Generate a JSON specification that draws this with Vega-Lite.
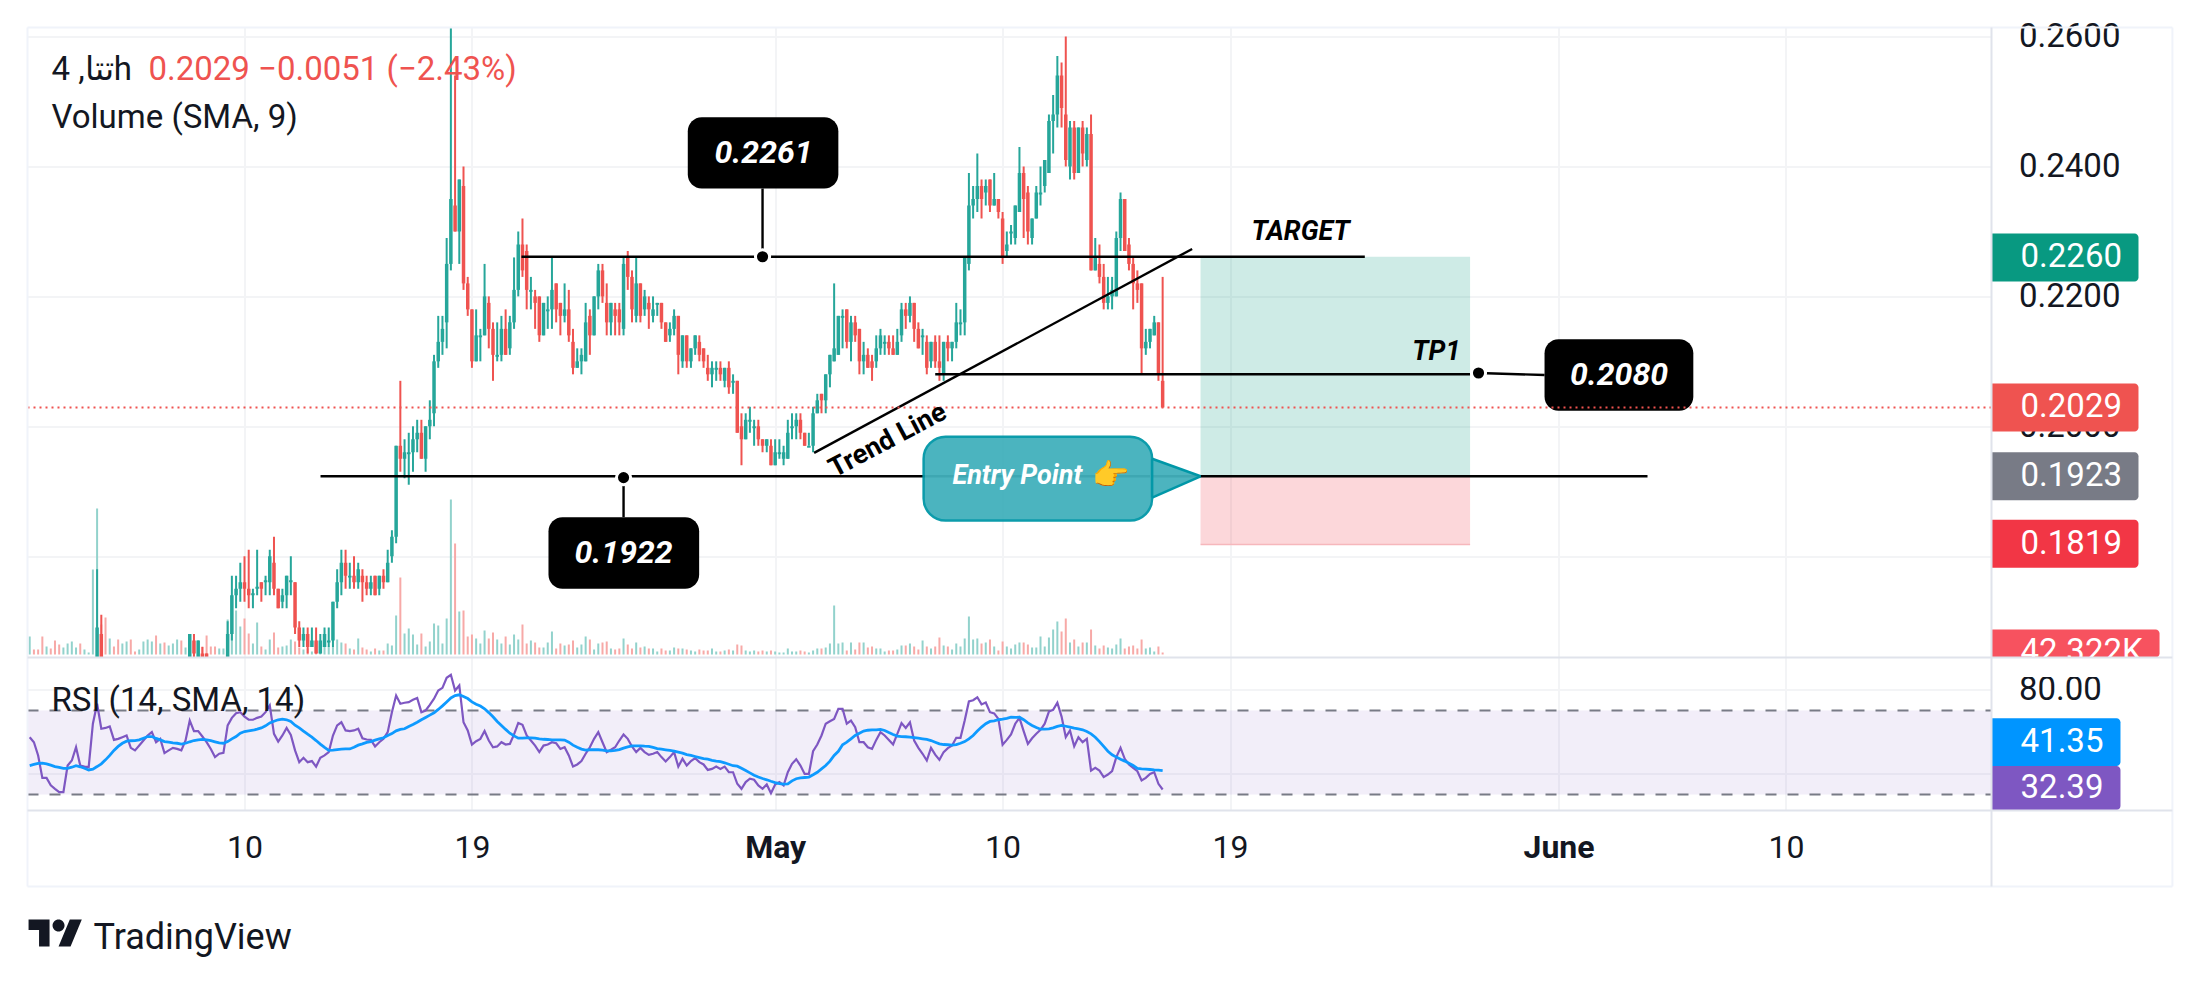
{
"$schema":"https://vega.github.io/schema/vega-lite/v6.json",
"background":"white",
"padding":{"left":23.5,"top":20.5,"right":28,"bottom":0},
"bounds":"flush",
"spacing":0,
"resolve":{"scale":{"color":"independent"}},
"config":{"font":"Roboto","view":{"stroke":null},"axis":{"gridColor":"#f3f4f6","gridWidth":2}},
"datasets":{"bars":[
{"t":"2025-04-01T12:00Z","u":1,"v":360,"r":57.3,"s":43.8},
{"t":"2025-04-01T16:00Z","u":0,"v":100,"r":54.9,"s":44.3},
{"t":"2025-04-01T20:00Z","u":0,"v":100,"r":48.6,"s":44.8},
{"t":"2025-04-02T00:00Z","u":0,"v":360,"r":37.9,"s":44.9},
{"t":"2025-04-02T04:00Z","u":1,"v":160,"r":37.9,"s":44.6},
{"t":"2025-04-02T08:00Z","u":0,"v":120,"r":34.4,"s":44.0},
{"t":"2025-04-02T12:00Z","u":0,"v":280,"r":32.7,"s":43.3},
{"t":"2025-04-02T16:00Z","u":0,"v":200,"r":31.1,"s":42.9},
{"t":"2025-04-02T20:00Z","u":1,"v":140,"r":31.1,"s":42.4},
{"t":"2025-04-03T00:00Z","u":1,"v":220,"r":43.8,"s":42.4},
{"t":"2025-04-03T04:00Z","u":1,"v":260,"r":46.2,"s":43.0},
{"t":"2025-04-03T08:00Z","u":1,"v":140,"r":52.5,"s":43.7},
{"t":"2025-04-03T12:00Z","u":0,"v":220,"r":43.8,"s":43.2},
{"t":"2025-04-03T16:00Z","u":1,"v":100,"r":43.3,"s":42.5},
{"t":"2025-04-03T20:00Z","u":1,"v":40,"r":43.0,"s":41.7},
{"t":"2025-04-04T00:00Z","u":1,"v":1700,"r":63.7,"s":42.1},
{"t":"2025-04-04T04:00Z","u":1,"v":2920,"r":73.2,"s":43.3,"o":0.16,"h":0.178,"l":0.16,"c":0.169},
{"t":"2025-04-04T08:00Z","u":0,"v":600,"r":61.3,"s":44.6,"o":0.168,"h":0.171,"l":0.16,"c":0.16},
{"t":"2025-04-04T12:00Z","u":0,"v":740,"r":61.7,"s":46.5},
{"t":"2025-04-04T16:00Z","u":1,"v":320,"r":62.4,"s":48.6},
{"t":"2025-04-04T20:00Z","u":0,"v":160,"r":56.0,"s":51.0},
{"t":"2025-04-05T00:00Z","u":0,"v":300,"r":56.5,"s":52.9},
{"t":"2025-04-05T04:00Z","u":1,"v":220,"r":57.3,"s":54.4},
{"t":"2025-04-05T08:00Z","u":1,"v":260,"r":58.1,"s":55.4},
{"t":"2025-04-05T12:00Z","u":0,"v":300,"r":52.2,"s":55.6},
{"t":"2025-04-05T16:00Z","u":0,"v":60,"r":51.0,"s":55.7},
{"t":"2025-04-05T20:00Z","u":1,"v":100,"r":53.3,"s":56.0},
{"t":"2025-04-06T00:00Z","u":1,"v":260,"r":55.7,"s":56.8},
{"t":"2025-04-06T04:00Z","u":1,"v":300,"r":58.1,"s":57.6},
{"t":"2025-04-06T08:00Z","u":1,"v":260,"r":59.7,"s":57.6},
{"t":"2025-04-06T12:00Z","u":0,"v":380,"r":54.9,"s":56.7},
{"t":"2025-04-06T16:00Z","u":1,"v":220,"r":56.5,"s":56.0},
{"t":"2025-04-06T20:00Z","u":0,"v":240,"r":49.7,"s":55.2},
{"t":"2025-04-07T00:00Z","u":1,"v":180,"r":51.0,"s":54.9},
{"t":"2025-04-07T04:00Z","u":1,"v":220,"r":52.2,"s":54.6},
{"t":"2025-04-07T08:00Z","u":1,"v":300,"r":51.7,"s":54.4},
{"t":"2025-04-07T12:00Z","u":0,"v":280,"r":51.0,"s":54.0},
{"t":"2025-04-07T16:00Z","u":1,"v":140,"r":55.7,"s":54.4},
{"t":"2025-04-07T20:00Z","u":1,"v":280,"r":65.2,"s":55.1,"o":0.16,"h":0.168,"l":0.16,"c":0.168},
{"t":"2025-04-08T00:00Z","u":0,"v":280,"r":60.2,"s":55.7,"o":0.167,"h":0.168,"l":0.164,"c":0.165},
{"t":"2025-04-08T04:00Z","u":1,"v":240,"r":60.2,"s":56.0,"o":0.164,"h":0.167,"l":0.164,"c":0.167},
{"t":"2025-04-08T08:00Z","u":0,"v":160,"r":57.6,"s":56.2,"o":0.165,"h":0.166,"l":0.164,"c":0.164},
{"t":"2025-04-08T12:00Z","u":0,"v":380,"r":54.9,"s":56.0,"o":0.165,"h":0.165,"l":0.164,"c":0.164},
{"t":"2025-04-08T16:00Z","u":0,"v":160,"r":51.7,"s":55.6},
{"t":"2025-04-08T20:00Z","u":0,"v":160,"r":47.8,"s":55.1},
{"t":"2025-04-09T00:00Z","u":1,"v":120,"r":49.4,"s":54.6},
{"t":"2025-04-09T04:00Z","u":1,"v":120,"r":49.8,"s":54.4},
{"t":"2025-04-09T08:00Z","u":1,"v":700,"r":62.9,"s":55.2,"o":0.164,"h":0.17,"l":0.164,"c":0.168},
{"t":"2025-04-09T12:00Z","u":1,"v":900,"r":66.5,"s":56.5,"o":0.168,"h":0.177,"l":0.167,"c":0.174},
{"t":"2025-04-09T16:00Z","u":1,"v":880,"r":68.7,"s":57.6,"o":0.174,"h":0.177,"l":0.172,"c":0.175},
{"t":"2025-04-09T20:00Z","u":1,"v":560,"r":69.2,"s":59.2,"o":0.175,"h":0.179,"l":0.173,"c":0.176},
{"t":"2025-04-10T00:00Z","u":0,"v":720,"r":67.1,"s":60.0,"o":0.176,"h":0.18,"l":0.173,"c":0.175},
{"t":"2025-04-10T04:00Z","u":0,"v":420,"r":65.6,"s":60.3,"o":0.175,"h":0.181,"l":0.172,"c":0.174},
{"t":"2025-04-10T08:00Z","u":1,"v":220,"r":65.6,"s":60.6,"o":0.174,"h":0.175,"l":0.172,"c":0.1743},
{"t":"2025-04-10T12:00Z","u":1,"v":640,"r":66.5,"s":61.1,"o":0.175,"h":0.181,"l":0.174,"c":0.1753},
{"t":"2025-04-10T16:00Z","u":0,"v":160,"r":67.1,"s":61.7,"o":0.176,"h":0.176,"l":0.173,"c":0.175},
{"t":"2025-04-10T20:00Z","u":1,"v":100,"r":69.2,"s":62.7,"o":0.176,"h":0.177,"l":0.174,"c":0.1763},
{"t":"2025-04-11T00:00Z","u":1,"v":300,"r":72.4,"s":64.1,"o":0.176,"h":0.181,"l":0.174,"c":0.18},
{"t":"2025-04-11T04:00Z","u":0,"v":440,"r":58.9,"s":64.9,"o":0.179,"h":0.183,"l":0.174,"c":0.175},
{"t":"2025-04-11T08:00Z","u":0,"v":140,"r":55.2,"s":65.6,"o":0.175,"h":0.175,"l":0.172,"c":0.172},
{"t":"2025-04-11T12:00Z","u":1,"v":160,"r":58.1,"s":65.9,"o":0.173,"h":0.175,"l":0.172,"c":0.174},
{"t":"2025-04-11T16:00Z","u":1,"v":180,"r":61.7,"s":65.6,"o":0.174,"h":0.177,"l":0.172,"c":0.177},
{"t":"2025-04-11T20:00Z","u":1,"v":300,"r":58.4,"s":64.8,"o":0.176,"h":0.18,"l":0.174,"c":0.1763},
{"t":"2025-04-12T00:00Z","u":0,"v":260,"r":51.0,"s":63.0,"o":0.176,"h":0.176,"l":0.168,"c":0.169},
{"t":"2025-04-12T04:00Z","u":0,"v":140,"r":45.4,"s":61.7,"o":0.169,"h":0.17,"l":0.166,"c":0.167},
{"t":"2025-04-12T08:00Z","u":1,"v":100,"r":47.5,"s":60.2,"o":0.167,"h":0.169,"l":0.166,"c":0.168},
{"t":"2025-04-12T12:00Z","u":0,"v":120,"r":45.4,"s":58.7,"o":0.168,"h":0.169,"l":0.165,"c":0.166},
{"t":"2025-04-12T16:00Z","u":1,"v":60,"r":45.9,"s":57.3,"o":0.166,"h":0.169,"l":0.166,"c":0.167},
{"t":"2025-04-12T20:00Z","u":0,"v":60,"r":43.3,"s":55.7,"o":0.167,"h":0.169,"l":0.165,"c":0.165},
{"t":"2025-04-13T00:00Z","u":1,"v":80,"r":47.5,"s":54.0,"o":0.165,"h":0.168,"l":0.165,"c":0.167},
{"t":"2025-04-13T04:00Z","u":1,"v":240,"r":48.6,"s":52.4,"o":0.166,"h":0.169,"l":0.166,"c":0.168},
{"t":"2025-04-13T08:00Z","u":1,"v":160,"r":50.2,"s":51.0,"o":0.1667,"h":0.169,"l":0.166,"c":0.167},
{"t":"2025-04-13T12:00Z","u":1,"v":160,"r":58.1,"s":51.1,"o":0.167,"h":0.173,"l":0.166,"c":0.173},
{"t":"2025-04-13T16:00Z","u":1,"v":300,"r":62.9,"s":51.4,"o":0.173,"h":0.178,"l":0.172,"c":0.176},
{"t":"2025-04-13T20:00Z","u":1,"v":240,"r":64.4,"s":51.6,"o":0.176,"h":0.181,"l":0.174,"c":0.179},
{"t":"2025-04-14T00:00Z","u":0,"v":220,"r":60.5,"s":51.7,"o":0.179,"h":0.181,"l":0.175,"c":0.177},
{"t":"2025-04-14T04:00Z","u":1,"v":120,"r":60.2,"s":51.7,"o":0.1767,"h":0.179,"l":0.175,"c":0.177},
{"t":"2025-04-14T08:00Z","u":0,"v":100,"r":60.5,"s":52.5,"o":0.177,"h":0.18,"l":0.175,"c":0.176},
{"t":"2025-04-14T12:00Z","u":1,"v":320,"r":61.3,"s":53.5,"o":0.176,"h":0.179,"l":0.175,"c":0.178},
{"t":"2025-04-14T16:00Z","u":0,"v":140,"r":56.8,"s":54.1,"o":0.177,"h":0.178,"l":0.173,"c":0.176},
{"t":"2025-04-14T20:00Z","u":0,"v":100,"r":56.2,"s":54.8,"o":0.176,"h":0.177,"l":0.174,"c":0.175},
{"t":"2025-04-15T00:00Z","u":1,"v":60,"r":56.0,"s":55.2,"o":0.175,"h":0.177,"l":0.174,"c":0.176},
{"t":"2025-04-15T04:00Z","u":0,"v":120,"r":52.9,"s":55.9,"o":0.177,"h":0.177,"l":0.174,"c":0.174},
{"t":"2025-04-15T08:00Z","u":1,"v":80,"r":54.9,"s":56.5,"o":0.175,"h":0.177,"l":0.174,"c":0.177},
{"t":"2025-04-15T12:00Z","u":0,"v":80,"r":56.5,"s":57.0,"o":0.177,"h":0.178,"l":0.175,"c":0.176},
{"t":"2025-04-15T16:00Z","u":1,"v":220,"r":59.7,"s":58.1,"o":0.176,"h":0.181,"l":0.176,"c":0.179},
{"t":"2025-04-15T20:00Z","u":1,"v":180,"r":69.2,"s":59.0,"o":0.18,"h":0.184,"l":0.179,"c":0.183},
{"t":"2025-04-16T00:00Z","u":1,"v":780,"r":77.1,"s":60.3,"o":0.183,"h":0.197,"l":0.182,"c":0.197},
{"t":"2025-04-16T04:00Z","u":0,"v":1540,"r":73.2,"s":61.0,"o":0.197,"h":0.207,"l":0.193,"c":0.195},
{"t":"2025-04-16T08:00Z","u":1,"v":420,"r":73.7,"s":61.3,"o":0.195,"h":0.198,"l":0.192,"c":0.196},
{"t":"2025-04-16T12:00Z","u":1,"v":520,"r":74.0,"s":62.4,"o":0.1957,"h":0.199,"l":0.191,"c":0.196},
{"t":"2025-04-16T16:00Z","u":1,"v":400,"r":75.1,"s":63.3,"o":0.196,"h":0.2,"l":0.193,"c":0.198},
{"t":"2025-04-16T20:00Z","u":1,"v":200,"r":76.0,"s":64.4,"o":0.198,"h":0.201,"l":0.196,"c":0.199},
{"t":"2025-04-17T00:00Z","u":0,"v":420,"r":69.2,"s":65.6,"o":0.199,"h":0.201,"l":0.195,"c":0.195},
{"t":"2025-04-17T04:00Z","u":1,"v":160,"r":70.0,"s":66.7,"o":0.195,"h":0.2,"l":0.193,"c":0.2},
{"t":"2025-04-17T08:00Z","u":1,"v":260,"r":72.7,"s":67.8,"o":0.2,"h":0.204,"l":0.198,"c":0.201},
{"t":"2025-04-17T12:00Z","u":1,"v":620,"r":75.6,"s":68.9,"o":0.202,"h":0.211,"l":0.2,"c":0.21},
{"t":"2025-04-17T16:00Z","u":1,"v":580,"r":79.5,"s":70.5,"o":0.21,"h":0.217,"l":0.209,"c":0.213},
{"t":"2025-04-17T20:00Z","u":1,"v":220,"r":80.8,"s":72.2,"o":0.213,"h":0.217,"l":0.211,"c":0.215},
{"t":"2025-04-18T00:00Z","u":1,"v":720,"r":85.6,"s":74.1,"o":0.216,"h":0.229,"l":0.212,"c":0.225},
{"t":"2025-04-18T04:00Z","u":1,"v":3100,"r":87.0,"s":76.0,"o":0.225,"h":0.2614,"l":0.224,"c":0.235},
{"t":"2025-04-18T08:00Z","u":0,"v":2220,"r":79.5,"s":77.1,"o":0.234,"h":0.254,"l":0.23,"c":0.23},
{"t":"2025-04-18T12:00Z","u":1,"v":860,"r":81.9,"s":77.5,"o":0.23,"h":0.238,"l":0.225,"c":0.238},
{"t":"2025-04-18T16:00Z","u":0,"v":880,"r":64.4,"s":76.7,"o":0.237,"h":0.24,"l":0.221,"c":0.222},
{"t":"2025-04-18T20:00Z","u":0,"v":360,"r":60.5,"s":75.7,"o":0.222,"h":0.223,"l":0.217,"c":0.218},
{"t":"2025-04-19T00:00Z","u":0,"v":400,"r":53.8,"s":74.1,"o":0.218,"h":0.218,"l":0.209,"c":0.21},
{"t":"2025-04-19T04:00Z","u":1,"v":320,"r":55.4,"s":73.0,"o":0.21,"h":0.218,"l":0.21,"c":0.214},
{"t":"2025-04-19T08:00Z","u":1,"v":220,"r":56.5,"s":72.1,"o":0.2137,"h":0.215,"l":0.21,"c":0.214},
{"t":"2025-04-19T12:00Z","u":1,"v":480,"r":60.2,"s":70.8,"o":0.214,"h":0.225,"l":0.214,"c":0.22},
{"t":"2025-04-19T16:00Z","u":0,"v":320,"r":55.7,"s":69.0,"o":0.219,"h":0.22,"l":0.212,"c":0.215},
{"t":"2025-04-19T20:00Z","u":0,"v":440,"r":52.5,"s":67.0,"o":0.215,"h":0.216,"l":0.207,"c":0.211},
{"t":"2025-04-20T00:00Z","u":1,"v":300,"r":52.9,"s":64.8,"o":0.2107,"h":0.216,"l":0.21,"c":0.211},
{"t":"2025-04-20T04:00Z","u":1,"v":220,"r":54.9,"s":62.9,"o":0.211,"h":0.217,"l":0.21,"c":0.215},
{"t":"2025-04-20T08:00Z","u":0,"v":360,"r":53.8,"s":61.0,"o":0.215,"h":0.218,"l":0.211,"c":0.211},
{"t":"2025-04-20T12:00Z","u":1,"v":200,"r":54.1,"s":59.2,"o":0.212,"h":0.217,"l":0.211,"c":0.216},
{"t":"2025-04-20T16:00Z","u":1,"v":400,"r":58.6,"s":57.9,"o":0.216,"h":0.226,"l":0.215,"c":0.221},
{"t":"2025-04-20T20:00Z","u":1,"v":300,"r":64.1,"s":56.8,"o":0.221,"h":0.23,"l":0.22,"c":0.228},
{"t":"2025-04-21T00:00Z","u":0,"v":600,"r":63.2,"s":56.8,"o":0.228,"h":0.232,"l":0.223,"c":0.224},
{"t":"2025-04-21T04:00Z","u":0,"v":220,"r":58.1,"s":57.0,"o":0.227,"h":0.228,"l":0.218,"c":0.221},
{"t":"2025-04-21T08:00Z","u":1,"v":280,"r":55.7,"s":57.0,"o":0.2207,"h":0.223,"l":0.218,"c":0.221},
{"t":"2025-04-21T12:00Z","u":0,"v":240,"r":53.3,"s":56.8,"o":0.22,"h":0.221,"l":0.215,"c":0.219},
{"t":"2025-04-21T16:00Z","u":0,"v":140,"r":50.2,"s":56.5,"o":0.22,"h":0.22,"l":0.213,"c":0.214},
{"t":"2025-04-21T20:00Z","u":1,"v":140,"r":53.3,"s":56.3,"o":0.214,"h":0.219,"l":0.214,"c":0.219},
{"t":"2025-04-22T00:00Z","u":1,"v":240,"r":53.8,"s":56.2,"o":0.2177,"h":0.22,"l":0.215,"c":0.218},
{"t":"2025-04-22T04:00Z","u":1,"v":460,"r":54.9,"s":56.0,"o":0.218,"h":0.226,"l":0.215,"c":0.221},
{"t":"2025-04-22T08:00Z","u":0,"v":120,"r":54.4,"s":56.0,"o":0.222,"h":0.222,"l":0.216,"c":0.218},
{"t":"2025-04-22T12:00Z","u":0,"v":220,"r":51.7,"s":56.0,"o":0.219,"h":0.219,"l":0.214,"c":0.217},
{"t":"2025-04-22T16:00Z","u":1,"v":180,"r":52.5,"s":55.9,"o":0.217,"h":0.222,"l":0.216,"c":0.218},
{"t":"2025-04-22T20:00Z","u":0,"v":200,"r":48.6,"s":54.9,"o":0.218,"h":0.221,"l":0.213,"c":0.214},
{"t":"2025-04-23T00:00Z","u":0,"v":280,"r":43.3,"s":53.5,"o":0.213,"h":0.215,"l":0.208,"c":0.209},
{"t":"2025-04-23T04:00Z","u":1,"v":140,"r":44.3,"s":52.5,"o":0.209,"h":0.212,"l":0.209,"c":0.21},
{"t":"2025-04-23T08:00Z","u":1,"v":200,"r":45.9,"s":51.6,"o":0.21,"h":0.212,"l":0.208,"c":0.211},
{"t":"2025-04-23T12:00Z","u":1,"v":360,"r":49.4,"s":51.1,"o":0.21,"h":0.219,"l":0.21,"c":0.216},
{"t":"2025-04-23T16:00Z","u":0,"v":300,"r":52.5,"s":51.3,"o":0.217,"h":0.218,"l":0.211,"c":0.214},
{"t":"2025-04-23T20:00Z","u":1,"v":100,"r":56.5,"s":51.3,"o":0.214,"h":0.22,"l":0.214,"c":0.22},
{"t":"2025-04-24T00:00Z","u":1,"v":220,"r":59.7,"s":51.3,"o":0.22,"h":0.225,"l":0.218,"c":0.224},
{"t":"2025-04-24T04:00Z","u":0,"v":240,"r":54.9,"s":51.1,"o":0.224,"h":0.225,"l":0.219,"c":0.22},
{"t":"2025-04-24T08:00Z","u":0,"v":260,"r":50.2,"s":50.8,"o":0.219,"h":0.222,"l":0.214,"c":0.216},
{"t":"2025-04-24T12:00Z","u":1,"v":120,"r":51.3,"s":50.8,"o":0.216,"h":0.219,"l":0.214,"c":0.219},
{"t":"2025-04-24T16:00Z","u":0,"v":100,"r":52.5,"s":51.0,"o":0.218,"h":0.219,"l":0.214,"c":0.217},
{"t":"2025-04-24T20:00Z","u":0,"v":120,"r":55.7,"s":51.4,"o":0.218,"h":0.219,"l":0.214,"c":0.216},
{"t":"2025-04-25T00:00Z","u":1,"v":320,"r":58.6,"s":52.1,"o":0.215,"h":0.226,"l":0.214,"c":0.225},
{"t":"2025-04-25T04:00Z","u":0,"v":200,"r":56.5,"s":52.7,"o":0.226,"h":0.227,"l":0.221,"c":0.223},
{"t":"2025-04-25T08:00Z","u":0,"v":120,"r":52.9,"s":53.2,"o":0.223,"h":0.224,"l":0.216,"c":0.218},
{"t":"2025-04-25T12:00Z","u":1,"v":240,"r":50.2,"s":53.2,"o":0.217,"h":0.226,"l":0.216,"c":0.222},
{"t":"2025-04-25T16:00Z","u":0,"v":140,"r":52.2,"s":53.2,"o":0.222,"h":0.222,"l":0.216,"c":0.217},
{"t":"2025-04-25T20:00Z","u":1,"v":160,"r":50.2,"s":53.0,"o":0.218,"h":0.221,"l":0.217,"c":0.22},
{"t":"2025-04-26T00:00Z","u":0,"v":120,"r":48.9,"s":52.9,"o":0.219,"h":0.22,"l":0.215,"c":0.218},
{"t":"2025-04-26T04:00Z","u":1,"v":120,"r":49.4,"s":52.4,"o":0.217,"h":0.22,"l":0.216,"c":0.218},
{"t":"2025-04-26T08:00Z","u":1,"v":60,"r":50.2,"s":51.9,"o":0.2187,"h":0.219,"l":0.217,"c":0.219},
{"t":"2025-04-26T12:00Z","u":0,"v":120,"r":47.8,"s":51.6,"o":0.219,"h":0.219,"l":0.215,"c":0.216},
{"t":"2025-04-26T16:00Z","u":0,"v":80,"r":45.7,"s":51.3,"o":0.216,"h":0.216,"l":0.213,"c":0.213},
{"t":"2025-04-26T20:00Z","u":1,"v":80,"r":47.8,"s":51.0,"o":0.214,"h":0.216,"l":0.213,"c":0.215},
{"t":"2025-04-27T00:00Z","u":1,"v":140,"r":50.2,"s":50.6,"o":0.215,"h":0.218,"l":0.214,"c":0.217},
{"t":"2025-04-27T04:00Z","u":0,"v":120,"r":43.3,"s":50.2,"o":0.217,"h":0.217,"l":0.208,"c":0.211},
{"t":"2025-04-27T08:00Z","u":1,"v":120,"r":47.0,"s":49.7,"o":0.21,"h":0.214,"l":0.209,"c":0.214},
{"t":"2025-04-27T12:00Z","u":0,"v":100,"r":43.8,"s":49.0,"o":0.214,"h":0.214,"l":0.209,"c":0.21},
{"t":"2025-04-27T16:00Z","u":1,"v":80,"r":45.9,"s":48.6,"o":0.21,"h":0.212,"l":0.209,"c":0.212},
{"t":"2025-04-27T20:00Z","u":1,"v":60,"r":47.3,"s":48.1,"o":0.212,"h":0.214,"l":0.211,"c":0.214},
{"t":"2025-04-28T00:00Z","u":0,"v":100,"r":45.4,"s":47.6,"o":0.213,"h":0.214,"l":0.21,"c":0.211},
{"t":"2025-04-28T04:00Z","u":0,"v":80,"r":44.3,"s":47.1,"o":0.212,"h":0.212,"l":0.209,"c":0.21},
{"t":"2025-04-28T08:00Z","u":0,"v":80,"r":41.7,"s":46.8,"o":0.209,"h":0.211,"l":0.207,"c":0.208},
{"t":"2025-04-28T12:00Z","u":1,"v":120,"r":42.2,"s":46.3,"o":0.208,"h":0.21,"l":0.206,"c":0.209},
{"t":"2025-04-28T16:00Z","u":1,"v":60,"r":43.3,"s":45.9,"o":0.2087,"h":0.21,"l":0.207,"c":0.209},
{"t":"2025-04-28T20:00Z","u":0,"v":60,"r":42.2,"s":45.6,"o":0.209,"h":0.21,"l":0.207,"c":0.208},
{"t":"2025-04-29T00:00Z","u":1,"v":80,"r":43.3,"s":45.1,"o":0.207,"h":0.209,"l":0.206,"c":0.209},
{"t":"2025-04-29T04:00Z","u":0,"v":100,"r":40.6,"s":44.4,"o":0.209,"h":0.21,"l":0.205,"c":0.206},
{"t":"2025-04-29T08:00Z","u":1,"v":80,"r":40.6,"s":43.7,"o":0.2067,"h":0.208,"l":0.205,"c":0.207},
{"t":"2025-04-29T12:00Z","u":0,"v":200,"r":35.1,"s":43.5,"o":0.207,"h":0.207,"l":0.199,"c":0.199},
{"t":"2025-04-29T16:00Z","u":0,"v":180,"r":32.7,"s":42.5,"o":0.2,"h":0.202,"l":0.194,"c":0.198},
{"t":"2025-04-29T20:00Z","u":1,"v":80,"r":35.9,"s":41.4,"o":0.198,"h":0.202,"l":0.198,"c":0.201},
{"t":"2025-04-30T00:00Z","u":1,"v":60,"r":37.5,"s":40.3,"o":0.2007,"h":0.203,"l":0.199,"c":0.201},
{"t":"2025-04-30T04:00Z","u":1,"v":80,"r":37.0,"s":39.2,"o":0.1997,"h":0.201,"l":0.197,"c":0.2},
{"t":"2025-04-30T08:00Z","u":0,"v":60,"r":34.3,"s":38.3,"o":0.2,"h":0.201,"l":0.197,"c":0.198},
{"t":"2025-04-30T12:00Z","u":0,"v":80,"r":32.7,"s":37.6,"o":0.198,"h":0.198,"l":0.196,"c":0.197},
{"t":"2025-04-30T16:00Z","u":1,"v":60,"r":34.8,"s":37.0,"o":0.197,"h":0.198,"l":0.196,"c":0.198},
{"t":"2025-04-30T20:00Z","u":0,"v":80,"r":30.6,"s":36.3,"o":0.197,"h":0.198,"l":0.194,"c":0.194},
{"t":"2025-05-01T00:00Z","u":1,"v":60,"r":34.8,"s":35.7,"o":0.194,"h":0.198,"l":0.194,"c":0.196},
{"t":"2025-05-01T04:00Z","u":1,"v":40,"r":35.9,"s":35.2,"o":0.1957,"h":0.198,"l":0.195,"c":0.196},
{"t":"2025-05-01T08:00Z","u":1,"v":40,"r":34.3,"s":34.9,"o":0.195,"h":0.197,"l":0.194,"c":0.196},
{"t":"2025-05-01T12:00Z","u":1,"v":120,"r":40.6,"s":35.1,"o":0.195,"h":0.201,"l":0.195,"c":0.199},
{"t":"2025-05-01T16:00Z","u":1,"v":60,"r":44.6,"s":36.5,"o":0.1997,"h":0.202,"l":0.198,"c":0.2},
{"t":"2025-05-01T20:00Z","u":1,"v":60,"r":46.8,"s":37.5,"o":0.2,"h":0.202,"l":0.198,"c":0.201},
{"t":"2025-05-02T00:00Z","u":0,"v":80,"r":43.8,"s":37.9,"o":0.201,"h":0.202,"l":0.198,"c":0.199},
{"t":"2025-05-02T04:00Z","u":0,"v":60,"r":39.8,"s":38.1,"o":0.199,"h":0.199,"l":0.197,"c":0.197},
{"t":"2025-05-02T08:00Z","u":1,"v":40,"r":39.8,"s":38.3,"o":0.1967,"h":0.199,"l":0.197,"c":0.197},
{"t":"2025-05-02T12:00Z","u":1,"v":80,"r":50.6,"s":39.4,"o":0.197,"h":0.203,"l":0.196,"c":0.202},
{"t":"2025-05-02T16:00Z","u":1,"v":120,"r":53.8,"s":40.6,"o":0.202,"h":0.205,"l":0.202,"c":0.204},
{"t":"2025-05-02T20:00Z","u":0,"v":120,"r":58.1,"s":42.2,"o":0.205,"h":0.205,"l":0.202,"c":0.204},
{"t":"2025-05-03T00:00Z","u":1,"v":140,"r":63.7,"s":43.8,"o":0.204,"h":0.208,"l":0.202,"c":0.208},
{"t":"2025-05-03T04:00Z","u":1,"v":220,"r":64.9,"s":45.9,"o":0.208,"h":0.211,"l":0.206,"c":0.211},
{"t":"2025-05-03T08:00Z","u":1,"v":980,"r":66.0,"s":48.6,"o":0.21,"h":0.222,"l":0.21,"c":0.212},
{"t":"2025-05-03T12:00Z","u":1,"v":220,"r":70.8,"s":50.6,"o":0.211,"h":0.217,"l":0.211,"c":0.217},
{"t":"2025-05-03T16:00Z","u":1,"v":240,"r":70.8,"s":53.7,"o":0.2167,"h":0.218,"l":0.212,"c":0.217},
{"t":"2025-05-03T20:00Z","u":0,"v":80,"r":63.7,"s":54.9,"o":0.218,"h":0.218,"l":0.212,"c":0.213},
{"t":"2025-05-04T00:00Z","u":1,"v":240,"r":65.2,"s":56.5,"o":0.213,"h":0.217,"l":0.21,"c":0.216},
{"t":"2025-05-04T04:00Z","u":0,"v":100,"r":62.1,"s":58.1,"o":0.216,"h":0.217,"l":0.213,"c":0.214},
{"t":"2025-05-04T08:00Z","u":0,"v":240,"r":54.9,"s":59.2,"o":0.215,"h":0.215,"l":0.208,"c":0.21},
{"t":"2025-05-04T12:00Z","u":1,"v":240,"r":54.9,"s":60.2,"o":0.21,"h":0.213,"l":0.208,"c":0.211},
{"t":"2025-05-04T16:00Z","u":0,"v":140,"r":52.5,"s":60.6,"o":0.211,"h":0.212,"l":0.209,"c":0.209},
{"t":"2025-05-04T20:00Z","u":0,"v":160,"r":51.7,"s":60.8,"o":0.21,"h":0.211,"l":0.207,"c":0.209},
{"t":"2025-05-05T00:00Z","u":1,"v":120,"r":56.0,"s":60.8,"o":0.21,"h":0.214,"l":0.209,"c":0.212},
{"t":"2025-05-05T04:00Z","u":1,"v":120,"r":59.7,"s":61.0,"o":0.212,"h":0.215,"l":0.211,"c":0.214},
{"t":"2025-05-05T08:00Z","u":1,"v":60,"r":58.1,"s":60.5,"o":0.2127,"h":0.214,"l":0.211,"c":0.213},
{"t":"2025-05-05T12:00Z","u":0,"v":80,"r":56.0,"s":59.5,"o":0.213,"h":0.214,"l":0.211,"c":0.212},
{"t":"2025-05-05T16:00Z","u":0,"v":80,"r":53.8,"s":58.6,"o":0.212,"h":0.214,"l":0.211,"c":0.211},
{"t":"2025-05-05T20:00Z","u":1,"v":100,"r":58.9,"s":57.8,"o":0.211,"h":0.215,"l":0.211,"c":0.213},
{"t":"2025-05-06T00:00Z","u":1,"v":180,"r":64.0,"s":57.6,"o":0.214,"h":0.219,"l":0.213,"c":0.218},
{"t":"2025-05-06T04:00Z","u":0,"v":180,"r":61.7,"s":57.5,"o":0.218,"h":0.219,"l":0.215,"c":0.217},
{"t":"2025-05-06T08:00Z","u":1,"v":220,"r":64.4,"s":57.3,"o":0.217,"h":0.22,"l":0.216,"c":0.219},
{"t":"2025-05-06T12:00Z","u":0,"v":160,"r":55.7,"s":57.1,"o":0.219,"h":0.219,"l":0.213,"c":0.215},
{"t":"2025-05-06T16:00Z","u":0,"v":100,"r":52.2,"s":56.8,"o":0.215,"h":0.216,"l":0.212,"c":0.212},
{"t":"2025-05-06T20:00Z","u":1,"v":280,"r":49.4,"s":56.5,"o":0.2137,"h":0.215,"l":0.211,"c":0.214},
{"t":"2025-05-07T00:00Z","u":0,"v":160,"r":46.2,"s":56.2,"o":0.213,"h":0.214,"l":0.208,"c":0.209},
{"t":"2025-05-07T04:00Z","u":1,"v":120,"r":52.2,"s":55.7,"o":0.21,"h":0.213,"l":0.209,"c":0.213},
{"t":"2025-05-07T08:00Z","u":0,"v":160,"r":49.0,"s":54.9,"o":0.213,"h":0.214,"l":0.209,"c":0.21},
{"t":"2025-05-07T12:00Z","u":0,"v":340,"r":46.5,"s":54.1,"o":0.21,"h":0.214,"l":0.207,"c":0.209},
{"t":"2025-05-07T16:00Z","u":1,"v":180,"r":50.2,"s":53.8,"o":0.208,"h":0.213,"l":0.207,"c":0.213},
{"t":"2025-05-07T20:00Z","u":0,"v":160,"r":52.1,"s":53.7,"o":0.213,"h":0.214,"l":0.21,"c":0.212},
{"t":"2025-05-08T00:00Z","u":1,"v":100,"r":53.3,"s":53.5,"o":0.212,"h":0.213,"l":0.21,"c":0.213},
{"t":"2025-05-08T04:00Z","u":1,"v":220,"r":57.0,"s":53.8,"o":0.213,"h":0.219,"l":0.212,"c":0.216},
{"t":"2025-05-08T08:00Z","u":1,"v":160,"r":57.0,"s":54.4,"o":0.2157,"h":0.218,"l":0.214,"c":0.216},
{"t":"2025-05-08T12:00Z","u":1,"v":320,"r":65.2,"s":55.2,"o":0.216,"h":0.226,"l":0.214,"c":0.226},
{"t":"2025-05-08T16:00Z","u":1,"v":760,"r":74.3,"s":56.5,"o":0.225,"h":0.239,"l":0.224,"c":0.234},
{"t":"2025-05-08T20:00Z","u":1,"v":300,"r":74.9,"s":58.1,"o":0.234,"h":0.237,"l":0.232,"c":0.235},
{"t":"2025-05-09T00:00Z","u":1,"v":320,"r":76.3,"s":60.2,"o":0.235,"h":0.242,"l":0.233,"c":0.237},
{"t":"2025-05-09T04:00Z","u":0,"v":220,"r":72.9,"s":62.1,"o":0.237,"h":0.238,"l":0.232,"c":0.235},
{"t":"2025-05-09T08:00Z","u":1,"v":240,"r":73.8,"s":63.7,"o":0.236,"h":0.238,"l":0.234,"c":0.237},
{"t":"2025-05-09T12:00Z","u":0,"v":300,"r":69.2,"s":64.8,"o":0.238,"h":0.238,"l":0.233,"c":0.234},
{"t":"2025-05-09T16:00Z","u":1,"v":160,"r":68.6,"s":65.1,"o":0.234,"h":0.239,"l":0.234,"c":0.235},
{"t":"2025-05-09T20:00Z","u":0,"v":80,"r":66.0,"s":65.6,"o":0.235,"h":0.235,"l":0.232,"c":0.233},
{"t":"2025-05-10T00:00Z","u":0,"v":260,"r":53.7,"s":65.9,"o":0.232,"h":0.233,"l":0.225,"c":0.226},
{"t":"2025-05-10T04:00Z","u":1,"v":160,"r":56.0,"s":66.3,"o":0.227,"h":0.23,"l":0.226,"c":0.228},
{"t":"2025-05-10T08:00Z","u":1,"v":120,"r":58.6,"s":66.8,"o":0.2297,"h":0.231,"l":0.228,"c":0.23},
{"t":"2025-05-10T12:00Z","u":1,"v":200,"r":63.7,"s":66.7,"o":0.229,"h":0.234,"l":0.228,"c":0.234},
{"t":"2025-05-10T16:00Z","u":1,"v":240,"r":66.5,"s":66.8,"o":0.233,"h":0.243,"l":0.233,"c":0.239},
{"t":"2025-05-10T20:00Z","u":0,"v":240,"r":60.2,"s":65.6,"o":0.239,"h":0.24,"l":0.229,"c":0.235},
{"t":"2025-05-11T00:00Z","u":0,"v":200,"r":54.1,"s":64.1,"o":0.236,"h":0.237,"l":0.228,"c":0.23},
{"t":"2025-05-11T04:00Z","u":1,"v":140,"r":56.8,"s":62.9,"o":0.229,"h":0.232,"l":0.228,"c":0.232},
{"t":"2025-05-11T08:00Z","u":1,"v":140,"r":58.9,"s":61.9,"o":0.232,"h":0.237,"l":0.232,"c":0.236},
{"t":"2025-05-11T12:00Z","u":1,"v":360,"r":60.8,"s":61.1,"o":0.2357,"h":0.24,"l":0.234,"c":0.236},
{"t":"2025-05-11T16:00Z","u":1,"v":160,"r":63.7,"s":61.1,"o":0.237,"h":0.241,"l":0.236,"c":0.241},
{"t":"2025-05-11T20:00Z","u":1,"v":340,"r":69.5,"s":61.3,"o":0.239,"h":0.248,"l":0.239,"c":0.247},
{"t":"2025-05-12T00:00Z","u":1,"v":500,"r":70.3,"s":61.7,"o":0.247,"h":0.251,"l":0.242,"c":0.248},
{"t":"2025-05-12T04:00Z","u":1,"v":660,"r":73.7,"s":62.4,"o":0.248,"h":0.257,"l":0.246,"c":0.254},
{"t":"2025-05-12T08:00Z","u":0,"v":460,"r":67.1,"s":62.9,"o":0.254,"h":0.256,"l":0.246,"c":0.249},
{"t":"2025-05-12T12:00Z","u":0,"v":720,"r":57.3,"s":62.5,"o":0.248,"h":0.26,"l":0.24,"c":0.241},
{"t":"2025-05-12T16:00Z","u":1,"v":240,"r":60.5,"s":62.1,"o":0.24,"h":0.247,"l":0.238,"c":0.246},
{"t":"2025-05-12T20:00Z","u":0,"v":300,"r":53.0,"s":61.6,"o":0.246,"h":0.247,"l":0.238,"c":0.239},
{"t":"2025-05-13T00:00Z","u":1,"v":160,"r":57.3,"s":61.3,"o":0.239,"h":0.246,"l":0.239,"c":0.246},
{"t":"2025-05-13T04:00Z","u":0,"v":240,"r":54.9,"s":60.8,"o":0.246,"h":0.247,"l":0.24,"c":0.242},
{"t":"2025-05-13T08:00Z","u":1,"v":240,"r":56.5,"s":60.0,"o":0.241,"h":0.246,"l":0.24,"c":0.245},
{"t":"2025-05-13T12:00Z","u":0,"v":500,"r":41.4,"s":58.9,"o":0.245,"h":0.248,"l":0.224,"c":0.224},
{"t":"2025-05-13T16:00Z","u":1,"v":180,"r":42.7,"s":57.3,"o":0.224,"h":0.229,"l":0.224,"c":0.226},
{"t":"2025-05-13T20:00Z","u":0,"v":120,"r":41.4,"s":55.2,"o":0.225,"h":0.228,"l":0.222,"c":0.223},
{"t":"2025-05-14T00:00Z","u":0,"v":180,"r":38.3,"s":52.9,"o":0.223,"h":0.225,"l":0.218,"c":0.219},
{"t":"2025-05-14T04:00Z","u":1,"v":140,"r":39.5,"s":50.6,"o":0.219,"h":0.223,"l":0.218,"c":0.22},
{"t":"2025-05-14T08:00Z","u":1,"v":120,"r":41.1,"s":48.9,"o":0.22,"h":0.223,"l":0.218,"c":0.221},
{"t":"2025-05-14T12:00Z","u":1,"v":200,"r":47.8,"s":47.8,"o":0.22,"h":0.23,"l":0.22,"c":0.229},
{"t":"2025-05-14T16:00Z","u":1,"v":320,"r":52.2,"s":46.8,"o":0.229,"h":0.236,"l":0.227,"c":0.235},
{"t":"2025-05-14T20:00Z","u":0,"v":120,"r":47.0,"s":45.9,"o":0.235,"h":0.235,"l":0.227,"c":0.227},
{"t":"2025-05-15T00:00Z","u":0,"v":160,"r":44.3,"s":44.9,"o":0.228,"h":0.229,"l":0.224,"c":0.225},
{"t":"2025-05-15T04:00Z","u":0,"v":180,"r":42.7,"s":43.8,"o":0.225,"h":0.226,"l":0.218,"c":0.222},
{"t":"2025-05-15T08:00Z","u":0,"v":120,"r":41.1,"s":42.4,"o":0.222,"h":0.224,"l":0.219,"c":0.221},
{"t":"2025-05-15T12:00Z","u":0,"v":300,"r":36.7,"s":42.2,"o":0.222,"h":0.222,"l":0.208,"c":0.212},
{"t":"2025-05-15T16:00Z","u":1,"v":120,"r":37.9,"s":42.1,"o":0.212,"h":0.215,"l":0.211,"c":0.213},
{"t":"2025-05-15T20:00Z","u":1,"v":140,"r":39.8,"s":41.9,"o":0.213,"h":0.215,"l":0.212,"c":0.215},
{"t":"2025-05-16T00:00Z","u":1,"v":60,"r":40.6,"s":41.7,"o":0.214,"h":0.217,"l":0.214,"c":0.216},
{"t":"2025-05-16T04:00Z","u":0,"v":160,"r":35.1,"s":41.6,"o":0.216,"h":0.216,"l":0.207,"c":0.208},
{"t":"2025-05-16T08:00Z","u":0,"v":42.3,"r":32.39,"s":41.35,"o":0.207,"h":0.223,"l":0.2029,"c":0.2029}
]},
"vconcat":[
{
"width":1964,"height":630,
"encoding":{"x":{"field":"t","type":"temporal","title":null,
"scale":{"type":"utc","padding":0,"domain":[{"year":2025,"month":4,"date":1,"hours":9,"minutes":54,"utc":true},{"year":2025,"month":6,"date":18,"hours":3,"minutes":12,"utc":true}]},
"axis":{"values":[{"year":2025,"month":4,"date":10,"utc":true},{"year":2025,"month":4,"date":19,"utc":true},{"year":2025,"month":5,"date":1,"utc":true},{"year":2025,"month":5,"date":10,"utc":true},{"year":2025,"month":5,"date":19,"utc":true},{"year":2025,"month":6,"date":1,"utc":true},{"year":2025,"month":6,"date":10,"utc":true}],"labels":false,"ticks":false,"domain":false,"grid":true}}},
"resolve":{"scale":{"y":"independent"}},
"layer":[
{"data":{"name":"bars"},"mark":{"type":"bar","size":2,"clip":true},
"encoding":{"y":{"field":"v","type":"quantitative","stack":null,"scale":{"domain":[-60,12540]},"axis":null},
"color":{"condition":{"test":"datum.u==1","value":"#92d2cc"},"value":"#f7a9a7"}}},
{"encoding":{"y":{"field":"p","type":"quantitative","title":null,"scale":{"domain":[0.1644,0.2614]},
"axis":{"orient":"right","values":[0.26,0.24,0.22,0.2,0.18],"format":".4f","labelFontSize":33,"labelColor":"#131722","labelPadding":27,"ticks":false,"domain":false,"grid":true}}},
"layer":[
{"data":{"values":[{"t":"2025-05-17T20:00Z","t2":"2025-05-28T12:00Z","p":0.2261,"p2":0.1923}],"format":{"parse":{"t":"date","t2":"date"}}},"mark":{"type":"rect","color":"#089981","opacity":0.2},"encoding":{"x2":{"field":"t2"},"y2":{"field":"p2"}}},
{"data":{"values":[{"t":"2025-05-17T20:00Z","t2":"2025-05-28T12:00Z","p":0.1923,"p2":0.1818}],"format":{"parse":{"t":"date","t2":"date"}}},"mark":{"type":"rect","color":"#f23645","opacity":0.2},"encoding":{"x2":{"field":"t2"},"y2":{"field":"p2"}}},
{"data":{"values":[{"t":"2025-05-17T20:00Z","t2":"2025-05-28T12:00Z","p":0.1818}],"format":{"parse":{"t":"date","t2":"date"}}},"mark":{"type":"rule","color":"#f6b7bc","strokeWidth":1.5},"encoding":{"x2":{"field":"t2"}}},
{"data":{"name":"bars"},"mark":{"type":"rule","strokeWidth":2,"clip":true},
"encoding":{"y":{"field":"l","type":"quantitative","title":null},"y2":{"field":"h"},"color":{"condition":{"test":"datum.u==1","value":"#26a69a"},"value":"#ef5350"}}},
{"data":{"name":"bars"},"mark":{"type":"bar","size":3.5,"clip":true},
"encoding":{"y":{"field":"o","type":"quantitative","title":null},"y2":{"field":"c"},"color":{"condition":{"test":"datum.u==1","value":"#26a69a"},"value":"#ef5350"}}},
{"data":{"values":[
{"t":"2025-04-20T23:00Z","t2":"2025-05-24T08:00Z","p":0.2261,"p2":0.2261},
{"t":"2025-04-13T00:12Z","t2":"2025-06-04T12:30Z","p":0.1923,"p2":0.1923},
{"t":"2025-05-07T08:00Z","t2":"2025-05-28T12:00Z","p":0.208,"p2":0.208},
{"t":"2025-05-02T13:00Z","t2":"2025-05-17T12:00Z","p":0.1959,"p2":0.2273},
{"t":"2025-04-30T12:00Z","t2":"2025-04-30T12:00Z","p":0.2366,"p2":0.2261},
{"t":"2025-04-25T00:00Z","t2":"2025-04-25T00:00Z","p":0.1921,"p2":0.186},
{"t":"2025-05-28T20:00Z","t2":"2025-05-31T10:42Z","p":0.2082,"p2":0.2079}
],"format":{"parse":{"t":"date","t2":"date"}}},"mark":{"type":"rule","color":"black","strokeWidth":2.4},"encoding":{"x2":{"field":"t2"},"y2":{"field":"p2"}}},
{"data":{"values":[
{"t":"2025-04-30T12:00Z","p":0.2261},
{"t":"2025-04-25T00:00Z","p":0.1921},
{"t":"2025-05-28T20:00Z","p":0.2082}
],"format":{"parse":{"t":"date"}}},"mark":{"type":"point","filled":true,"color":"black","size":200,"opacity":1,"stroke":"white","strokeWidth":3},"encoding":{}},
{"data":{"values":[
{"t":"2025-04-27T13:00Z","t2":"2025-05-03T12:00Z","p":0.2476,"p2":0.2366},
{"t":"2025-04-22T00:42Z","t2":"2025-04-27T23:48Z","p":0.186,"p2":0.175},
{"t":"2025-05-31T10:42Z","t2":"2025-06-06T08:00Z","p":0.2134,"p2":0.2024}
],"format":{"parse":{"t":"date","t2":"date"}}},"mark":{"type":"rect","color":"black","cornerRadius":14},"encoding":{"x2":{"field":"t2"},"y2":{"field":"p2"}}},
{"data":{"values":[{"t":"2025-04-01T09:54Z","t2":"2025-06-18T03:12Z","p":0.2029}],"format":{"parse":{"t":"date","t2":"date"}}},"mark":{"type":"rule","color":"#ef5350","strokeWidth":2,"strokeDash":[2,4]},"encoding":{"x2":{"field":"t2"}}},
{"data":{"values":[
{"label":"0.2261","t":"2025-04-30T13:00Z","p":0.2421},
{"label":"0.1922","t":"2025-04-25T00:00Z","p":0.1805},
{"label":"0.2080","t":"2025-06-03T09:24Z","p":0.2079}
],"format":{"parse":{"t":"date"}}},"mark":{"type":"text","color":"white","fontSize":32,"fontWeight":"bold","fontStyle":"italic","baseline":"middle"},"encoding":{"text":{"field":"label"}}},
{"data":{"values":[
{"label":"TARGET","t":"2025-05-21T19:00Z","p":0.2299},
{"label":"TP1","t":"2025-05-27T04:00Z","p":0.2115}
],"format":{"parse":{"t":"date"}}},"mark":{"type":"text","color":"black","fontSize":27,"fontWeight":"bold","fontStyle":"italic","baseline":"middle"},"encoding":{"text":{"field":"label"}}},
{"data":{"values":[{"label":"Trend Line","t":"2025-05-05T11:00Z","p":0.1978}],"format":{"parse":{"t":"date"}}},"mark":{"type":"text","color":"black","fontSize":27,"fontWeight":"bold","angle":332,"baseline":"middle"},"encoding":{"text":{"field":"label"}}},
{"data":{"values":[{"t":"2025-05-15T20:00Z","p":0.195,"p2":0.189},{"t":"2025-05-17T20:00Z","p":0.1923,"p2":0.1923}],"format":{"parse":{"t":"date"}}},"mark":{"type":"area","color":"#42b0bc","opacity":0.95},"encoding":{"y2":{"field":"p2"}}},
{"data":{"values":[
{"t":"2025-05-15T22:00Z","t2":"2025-05-17T20:00Z","p":0.195,"p2":0.1923},
{"t":"2025-05-15T22:00Z","t2":"2025-05-17T20:00Z","p":0.189,"p2":0.1923}
],"format":{"parse":{"t":"date","t2":"date"}}},"mark":{"type":"rule","color":"#0097a7","strokeWidth":2.5},"encoding":{"x2":{"field":"t2"},"y2":{"field":"p2"}}},
{"data":{"values":[{"t":"2025-05-06T21:00Z","t2":"2025-05-15T22:00Z","p":0.1984,"p2":0.1855}],"format":{"parse":{"t":"date","t2":"date"}}},"mark":{"type":"rect","color":"#42b0bc","opacity":0.95,"stroke":"#0097a7","strokeWidth":2.5,"cornerRadius":22},"encoding":{"x2":{"field":"t2"},"y2":{"field":"p2"}}},
{"data":{"values":[{"label":"Entry Point","t":"2025-05-10T14:00Z","p":0.1923}],"format":{"parse":{"t":"date"}}},"mark":{"type":"text","color":"white","fontSize":27,"fontWeight":"bold","fontStyle":"italic","baseline":"middle"},"encoding":{"text":{"field":"label"}}},
{"data":{"values":[{"label":"👉","t":"2025-05-14T06:00Z","p":0.1923}],"format":{"parse":{"t":"date"}}},"mark":{"type":"text","color":"#f8d8bc","font":"DejaVu Sans","fontSize":30,"baseline":"middle"},"encoding":{"text":{"field":"label"}}},
{"data":{"values":[
{"kind":"target","t":"2025-06-18T03:12Z","t2":"2025-06-23T22:48Z","p":0.2297,"p2":0.2223},
{"kind":"last","t":"2025-06-18T03:12Z","t2":"2025-06-23T22:48Z","p":0.2066,"p2":0.1992},
{"kind":"entry","t":"2025-06-18T03:12Z","t2":"2025-06-23T22:48Z","p":0.196,"p2":0.1886},
{"kind":"stop","t":"2025-06-18T03:12Z","t2":"2025-06-23T22:48Z","p":0.1856,"p2":0.1782},
{"kind":"volume","t":"2025-06-18T03:12Z","t2":"2025-06-24T18:48Z","p":0.1687,"p2":0.1644}
],"format":{"parse":{"t":"date","t2":"date"}}},"mark":{"type":"rect","cornerRadiusTopRight":4,"cornerRadiusBottomRight":4},
"encoding":{"x2":{"field":"t2"},"y2":{"field":"p2"},"color":{"field":"kind","type":"nominal","legend":null,"scale":{"domain":["target","last","entry","stop","volume"],"range":["#089981","#ef5350","#787b86","#f23645","#f7525f"]}}}},
{"data":{"values":[
{"label":"0.2260","t":"2025-06-19T06:48Z","p":0.226},
{"label":"0.2029","t":"2025-06-19T06:48Z","p":0.2029},
{"label":"0.1923","t":"2025-06-19T06:48Z","p":0.1923},
{"label":"0.1819","t":"2025-06-19T06:48Z","p":0.1819},
{"label":"42.322K","t":"2025-06-19T06:48Z","p":0.1652}
],"format":{"parse":{"t":"date"}}},"mark":{"type":"text","color":"white","fontSize":33,"align":"left","baseline":"middle"},"encoding":{"text":{"field":"label"}}},
{"data":{"values":[{"label":"4 ,تتاh","t":"2025-04-02T08:42Z","p":0.2548},{"label":"Volume (SMA, 9)","t":"2025-04-02T08:42Z","p":0.2474}],"format":{"parse":{"t":"date"}}},"mark":{"type":"text","color":"#131722","fontSize":33,"align":"left","baseline":"middle"},"encoding":{"text":{"field":"label"}}},
{"data":{"values":[{"label":"0.2029   −0.0051 (−2.43%)","t":"2025-04-06T04:48Z","p":0.2548}],"format":{"parse":{"t":"date"}}},"mark":{"type":"text","color":"#ef5350","fontSize":33,"align":"left","baseline":"middle"},"encoding":{"text":{"field":"label"}}},
{"data":{"values":[
{"t":"2025-04-01T09:54Z","t2":"2025-06-25T07:00Z","p":0.2614,"p2":0.2614},
{"t":"2025-04-01T09:54Z","t2":"2025-04-01T09:54Z","p":0.2614,"p2":0.1644},
{"t":"2025-06-25T07:00Z","t2":"2025-06-25T07:00Z","p":0.2614,"p2":0.1644}
],"format":{"parse":{"t":"date","t2":"date"}}},"mark":{"type":"rule","color":"#f0f3fa","strokeWidth":2},"encoding":{"x2":{"field":"t2"},"y2":{"field":"p2"}}},
{"data":{"values":[{"t":"2025-06-18T03:12Z","p":0.2614,"p2":0.1644}],"format":{"parse":{"t":"date"}}},"mark":{"type":"rule","color":"#e0e3eb","strokeWidth":2},"encoding":{"y2":{"field":"p2"}}}
]}
]
},
{
"width":1964,"height":153,
"encoding":{"x":{"field":"t","type":"temporal","title":null,
"scale":{"type":"utc","padding":0,"domain":[{"year":2025,"month":4,"date":1,"hours":9,"minutes":54,"utc":true},{"year":2025,"month":6,"date":18,"hours":3,"minutes":12,"utc":true}]},
"axis":{"orient":"bottom","values":[{"year":2025,"month":4,"date":10,"utc":true},{"year":2025,"month":4,"date":19,"utc":true},{"year":2025,"month":5,"date":1,"utc":true},{"year":2025,"month":5,"date":10,"utc":true},{"year":2025,"month":5,"date":19,"utc":true},{"year":2025,"month":6,"date":1,"utc":true},{"year":2025,"month":6,"date":10,"utc":true}],
"labelExpr":"utcdate(datum.value)==1 ? utcFormat(datum.value,'%B') : ''+utcdate(datum.value)",
"labelFontWeight":{"condition":{"test":"utcdate(datum.value)==1","value":"bold"},"value":"normal"},
"labelFontSize":32,"labelColor":"#131722","labelPadding":22,"labelOverlap":false,"ticks":false,"domain":false,"grid":true}},
"y":{"field":"r","type":"quantitative","title":null,"scale":{"domain":[22.38,95.24]},
"axis":{"orient":"right","values":[80,40],"format":".2f","labelFontSize":33,"labelColor":"#131722","labelPadding":27,"ticks":false,"domain":false,"grid":true}}},
"layer":[
{"data":{"values":[{"t":"2025-06-18T03:12Z","t2":"2025-06-25T07:00Z","r":95.24,"r2":86}],"format":{"parse":{"t":"date","t2":"date"}}},"mark":{"type":"rect","color":"white"},"encoding":{"x2":{"field":"t2"},"y2":{"field":"r2"}}},
{"data":{"values":[{"t":"2025-04-01T09:54Z","t2":"2025-06-18T03:12Z","r":70,"r2":30}],"format":{"parse":{"t":"date","t2":"date"}}},"mark":{"type":"rect","color":"#7e57c2","opacity":0.1},"encoding":{"x2":{"field":"t2"},"y2":{"field":"r2"}}},
{"data":{"values":[{"t":"2025-04-01T09:54Z","t2":"2025-06-18T03:12Z","r":70},{"t":"2025-04-01T09:54Z","t2":"2025-06-18T03:12Z","r":30}],"format":{"parse":{"t":"date","t2":"date"}}},"mark":{"type":"rule","color":"#787b86","strokeWidth":2,"strokeDash":[11,11]},"encoding":{"x2":{"field":"t2"}}},
{"data":{"name":"bars"},"mark":{"type":"line","color":"#7e57c2","strokeWidth":2.2},"encoding":{}},
{"data":{"name":"bars"},"mark":{"type":"line","color":"#0e9aff","strokeWidth":2.8},"encoding":{"y":{"field":"s","type":"quantitative","title":null}}},
{"data":{"values":[
{"kind":"sma","t":"2025-06-18T03:12Z","t2":"2025-06-23T05:42Z","r":66.3,"r2":43.6},
{"kind":"rsi","t":"2025-06-18T03:12Z","t2":"2025-06-23T05:42Z","r":43.6,"r2":22.6}
],"format":{"parse":{"t":"date","t2":"date"}}},"mark":{"type":"rect","cornerRadiusTopRight":4,"cornerRadiusBottomRight":4},
"encoding":{"x2":{"field":"t2"},"y2":{"field":"r2"},"color":{"field":"kind","type":"nominal","legend":null,"scale":{"domain":["sma","rsi"],"range":["#0095ff","#7e57c2"]}}}},
{"data":{"values":[{"label":"41.35","t":"2025-06-19T06:48Z","r":54.9},{"label":"32.39","t":"2025-06-19T06:48Z","r":32.9}],"format":{"parse":{"t":"date"}}},"mark":{"type":"text","color":"white","fontSize":33,"align":"left","baseline":"middle"},"encoding":{"text":{"field":"label"}}},
{"data":{"values":[{"label":"RSI (14, SMA, 14)","t":"2025-04-02T08:42Z","r":74.3}],"format":{"parse":{"t":"date"}}},"mark":{"type":"text","color":"#131722","fontSize":33,"align":"left","baseline":"middle"},"encoding":{"text":{"field":"label"}}},
{"data":{"values":[{"label":"TradingView","t":"2025-04-04T00:36Z","r":-38.1}],"format":{"parse":{"t":"date"}}},"mark":{"type":"text","color":"#131722","fontSize":36,"align":"left","baseline":"middle"},"encoding":{"text":{"field":"label"}}},
{"data":{"values":[{"t":"2025-04-01T10:54Z","r":-26.7}],"format":{"parse":{"t":"date"}}},"mark":{"type":"point","filled":true,"opacity":1,"color":"#131722","size":9,"shape":"M14 22H7V11H0V4h14v18zM28 22h-8l7.5-18h8L28 22zM24 8a4 4 0 1 1-8 0 4 4 0 0 1 8 0z"},"encoding":{}},
{"data":{"values":[
{"t":"2025-04-01T09:54Z","t2":"2025-04-01T09:54Z","r":95.24,"r2":-13.8},
{"t":"2025-06-25T07:00Z","t2":"2025-06-25T07:00Z","r":95.24,"r2":-13.8},
{"t":"2025-04-01T09:54Z","t2":"2025-06-25T07:00Z","r":-13.8,"r2":-13.8}
],"format":{"parse":{"t":"date","t2":"date"}}},"mark":{"type":"rule","color":"#f0f3fa","strokeWidth":2},"encoding":{"x2":{"field":"t2"},"y2":{"field":"r2"}}},
{"data":{"values":[
{"t":"2025-04-01T09:54Z","t2":"2025-06-25T07:00Z","r":95.24,"r2":95.24},
{"t":"2025-04-01T09:54Z","t2":"2025-06-25T07:00Z","r":22.38,"r2":22.38},
{"t":"2025-06-18T03:12Z","t2":"2025-06-18T03:12Z","r":95.24,"r2":-13.8}
],"format":{"parse":{"t":"date","t2":"date"}}},"mark":{"type":"rule","color":"#e0e3eb","strokeWidth":2},"encoding":{"x2":{"field":"t2"},"y2":{"field":"r2"}}}
]
}
]
}
